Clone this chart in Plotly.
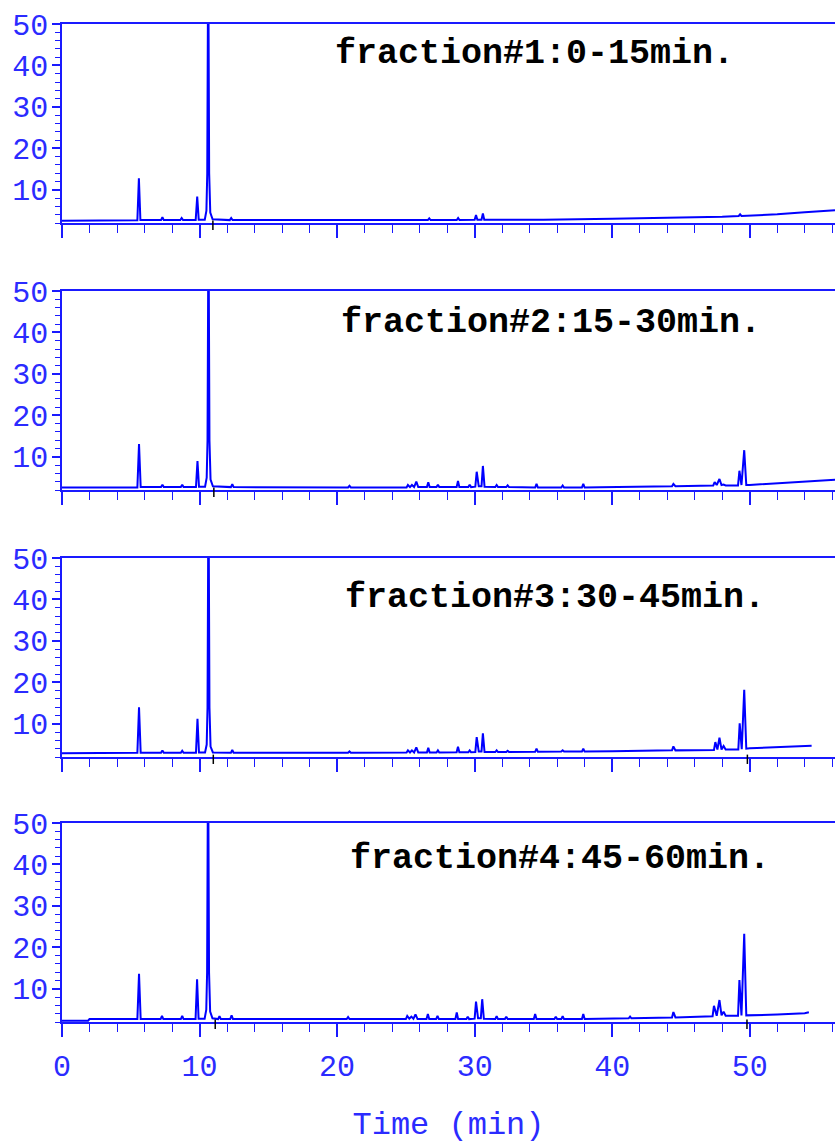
import plotly.graph_objects as go

# ---------------- data ----------------
x_range = [0, 56.2]
y_range = [2, 50]
x_ticks = [0, 10, 20, 30, 40, 50]
y_ticks = [10, 20, 30, 40, 50]
x_title = "Time (min)"
fraction_labels = [
    "fraction#1:0-15min.",
    "fraction#2:15-30min.",
    "fraction#3:30-45min.",
    "fraction#4:45-60min.",
]

# fraction #1
time_f1 = [0.0, 2.0, 5.48,
           5.59, 5.70,
           7.2, 7.3, 7.4,
           8.6, 8.7, 8.8,
           9.72, 9.83, 9.94,
           10.38, 10.50, 10.56, 10.63, 10.70, 10.78, 10.95,
           12.2, 12.3, 12.4,
           20.0, 26.6, 26.7, 26.8,
           28.7, 28.8, 28.9,
           30.0, 30.1, 30.2, 30.5, 30.6, 30.7,
           35.0, 40.0, 45.0, 48.0,
           49.2, 49.3, 49.4,
           52.0, 54.0, 56.2]
sig_f1 = [2.55, 2.65, 2.65,
          12.8, 2.7,
          2.7, 3.4, 2.7,
          2.7, 3.2, 2.7,
          2.7, 8.4, 2.8,
          2.8, 5.0, 14.0, 70.0, 14.0, 4.5, 2.9,
          2.7, 3.2, 2.7,
          2.7, 2.7, 3.1, 2.7,
          2.7, 3.2, 2.7,
          2.8, 3.9, 2.8, 2.8, 4.3, 2.8,
          2.8, 3.0, 3.2, 3.5,
          3.7, 4.1, 3.7,
          4.1, 4.6, 5.1]
events_f1 = [10.97]

# fraction #2
time_f2 = [0.0, 5.48,
           5.6, 5.72,
           7.2, 7.3, 7.4,
           8.64, 8.74, 8.84,
           9.74, 9.85, 9.96,
           10.40, 10.52, 10.58, 10.65, 10.72, 10.80, 10.97,
           12.28, 12.38, 12.48,
           20.8, 20.9, 21.0,
           25.05, 25.15, 25.3, 25.44, 25.6, 25.76, 25.9,
           26.53, 26.63, 26.73,
           27.23, 27.33, 27.43,
           28.69, 28.79, 28.89,
           29.54, 29.64, 29.74,
           30.05, 30.15, 30.3, 30.5, 30.6, 30.72,
           31.5, 31.6, 31.7,
           32.3, 32.4, 32.5,
           34.4, 34.5, 34.6,
           36.3, 36.4, 36.5,
           37.8, 37.9, 38.0,
           39.1, 44.35, 44.45, 44.6,
           47.35, 47.45, 47.6, 47.8, 47.95, 48.1, 48.25,
           49.15, 49.25, 49.4, 49.6, 49.75,
           50.0, 52.0, 54.0, 56.2]
sig_f2 = [2.6, 2.6,
          13.1, 2.7,
          2.7, 3.3, 2.7,
          2.7, 3.3, 2.7,
          2.7, 9.0, 2.8,
          2.8, 5.0, 14.0, 70.0, 14.0, 4.5, 2.9,
          2.7, 3.4, 2.7,
          2.6, 3.0, 2.6,
          2.6, 3.2, 2.7, 3.2, 2.7, 4.0, 2.7,
          2.7, 3.85, 2.7,
          2.7, 3.3, 2.7,
          2.7, 4.2, 2.7,
          2.7, 3.3, 2.7,
          2.8, 6.4, 2.9, 2.9, 7.8, 2.8,
          2.7, 3.2, 2.7,
          2.7, 3.1, 2.7,
          2.6, 3.5, 2.6,
          2.6, 3.1, 2.6,
          2.6, 3.5, 2.6,
          2.65, 2.9, 3.45, 2.9,
          3.1, 3.9, 3.2, 4.65, 3.2, 3.3, 3.1,
          3.1, 6.65, 3.2, 11.6, 3.2,
          3.2, 3.6, 4.0, 4.5]
events_f2 = [11.04]

# fraction #3
time_f3 = [0.0, 5.48,
           5.6, 5.72,
           7.2, 7.3, 7.4,
           8.64, 8.74, 8.84,
           9.74, 9.85, 9.96,
           10.40, 10.52, 10.58, 10.65, 10.72, 10.80, 10.97,
           12.28, 12.38, 12.48,
           20.8, 20.9, 21.0,
           25.05, 25.15, 25.3, 25.44, 25.6, 25.76, 25.9,
           26.53, 26.63, 26.73,
           27.23, 27.33, 27.43,
           28.69, 28.79, 28.89,
           29.54, 29.64, 29.74,
           30.05, 30.15, 30.3, 30.5, 30.6, 30.72,
           31.5, 31.6, 31.7,
           32.3, 32.4, 32.5,
           34.4, 34.5, 34.6,
           36.3, 36.4, 36.5,
           37.8, 37.9, 38.0,
           40.0, 44.35, 44.45, 44.6,
           47.4, 47.5, 47.65, 47.8, 47.95, 48.1, 48.25,
           49.17, 49.27, 49.42, 49.6, 49.75,
           50.0, 52.0, 54.5]
sig_f3 = [2.9, 3.0,
          14.0, 3.0,
          3.0, 3.6, 3.0,
          3.0, 3.5, 3.0,
          3.0, 11.2, 3.1,
          3.1, 5.0, 14.0, 70.0, 14.0, 4.5, 3.1,
          3.0, 3.7, 3.0,
          3.05, 3.35, 3.05,
          3.1, 3.6, 3.1, 3.6, 3.1, 4.3, 3.1,
          3.1, 4.2, 3.1,
          3.1, 3.6, 3.1,
          3.15, 4.5, 3.15,
          3.15, 3.6, 3.15,
          3.2, 6.8, 3.3, 3.3, 7.7, 3.2,
          3.2, 3.6, 3.2,
          3.2, 3.5, 3.2,
          3.25, 4.0, 3.25,
          3.3, 3.6, 3.3,
          3.3, 4.0, 3.3,
          3.4, 3.6, 4.55, 3.6,
          3.7, 5.6, 3.8, 6.65, 3.8, 4.65, 3.8,
          3.8, 10.1, 3.9, 18.2, 4.0,
          4.1, 4.4, 4.7]
events_f3 = [11.0, 49.83]

# fraction #4
time_f4 = [0.0, 1.9, 2.0, 5.48,
           5.6, 5.72,
           7.17, 7.27, 7.37,
           8.64, 8.74, 8.84,
           9.71, 9.82, 9.93,
           10.37, 10.49, 10.55, 10.62, 10.69, 10.77, 10.94,
           11.35, 11.45, 11.55,
           12.23, 12.33, 12.43,
           20.7, 20.8, 20.9,
           25.0, 25.1, 25.25, 25.4, 25.55, 25.7, 25.85,
           26.5, 26.6, 26.7,
           27.2, 27.3, 27.4,
           28.6, 28.7, 28.8,
           29.4, 29.5, 29.6,
           30.0, 30.1, 30.25, 30.45, 30.55, 30.67,
           31.5, 31.6, 31.7,
           32.2, 32.3, 32.4,
           34.3, 34.4, 34.5,
           35.8, 35.9, 36.0, 36.3, 36.4, 36.5,
           37.8, 37.9, 38.0,
           41.2, 41.3, 41.4,
           44.35, 44.45, 44.6,
           47.3, 47.4, 47.6, 47.8, 47.95, 48.1, 48.25,
           49.15, 49.25, 49.4, 49.6, 49.75,
           52.0, 54.0, 54.3]
sig_f4 = [2.3, 2.3, 2.7, 2.7,
          13.6, 2.7,
          2.7, 3.45, 2.7,
          2.7, 3.45, 2.7,
          2.7, 12.3, 2.8,
          2.8, 5.0, 14.0, 70.0, 14.0, 4.5, 2.9,
          2.7, 3.4, 2.7,
          2.7, 3.6, 2.7,
          2.7, 3.2, 2.7,
          2.7, 3.45, 2.8, 3.3, 2.8, 3.85, 2.7,
          2.7, 3.9, 2.7,
          2.7, 3.45, 2.7,
          2.7, 4.3, 2.7,
          2.7, 3.3, 2.7,
          2.8, 6.9, 2.9, 2.9, 7.5, 2.8,
          2.7, 3.4, 2.7,
          2.7, 3.3, 2.7,
          2.7, 3.9, 2.7,
          2.7, 3.3, 2.7, 2.7, 3.4, 2.7,
          2.7, 3.9, 2.7,
          2.9, 3.3, 2.9,
          3.1, 4.4, 3.1,
          3.4, 5.9, 3.5, 7.3, 3.6, 4.5, 3.5,
          3.5, 12.1, 3.6, 23.3, 3.6,
          3.8, 4.1, 4.35]
events_f4 = [11.14, 49.8]

# ---------------- styling / layout ----------------
LINE_BLUE = "#0000ff"
AXIS_BLUE = "#1a1aff"
TEXT_BLUE = "#2b2bff"
MONO = "Courier New, Liberation Mono, DejaVu Sans Mono, monospace"

W, H = 835, 1144
panel_px = [(24, 223), (291, 490), (558, 757), (823, 1022)]  # (top, bottom) in pixels
label_px = [(534, 54), (551, 323), (555, 598), (560, 859)]

series = [(time_f1, sig_f1, events_f1), (time_f2, sig_f2, events_f2),
          (time_f3, sig_f3, events_f3), (time_f4, sig_f4, events_f4)]

fig = go.Figure()
layout = dict(
    width=W, height=H,
    margin=dict(l=62, r=0, t=0, b=0, autoexpand=False),
    paper_bgcolor="white", plot_bgcolor="white",
    showlegend=False,
    annotations=[], shapes=[],
)

for i, (t, s, ev) in enumerate(series):
    xid = "x" if i == 0 else f"x{i+1}"
    yid = "y" if i == 0 else f"y{i+1}"
    fig.add_trace(go.Scatter(x=t, y=s, mode="lines",
                             line=dict(color=LINE_BLUE, width=2),
                             xaxis=xid, yaxis=yid, hoverinfo="skip"))
    # black event marks below the baseline
    for e in ev:
        layout["shapes"].append(dict(
            type="line", xref=xid, yref=yid + " domain",
            x0=e, x1=e, y0=-0.035, y1=0.012,
            line=dict(color="black", width=1.5), layer="above"))
    top, bot = panel_px[i]
    dom = [1 - bot / H, 1 - top / H]
    last = (i == 3)
    xa = dict(domain=[0, 1], range=x_range, anchor=yid, automargin=False,
              showline=True, linecolor=AXIS_BLUE, linewidth=1.5, mirror=True,
              ticks="outside", ticklen=13, tickwidth=1.5, tickcolor=AXIS_BLUE,
              tickvals=x_ticks,
              minor=dict(dtick=2, tick0=0, ticks="outside", ticklen=8,
                         tickwidth=1.2, tickcolor=AXIS_BLUE, showgrid=False),
              showgrid=False, zeroline=False, showticklabels=last,
              tickfont=dict(family=MONO, size=30, color=TEXT_BLUE),
              ticklabelstandoff=3, fixedrange=True)
    if last:
        xa["title"] = dict(text=x_title, font=dict(family=MONO, size=32, color=TEXT_BLUE),
                           standoff=33)
    ya = dict(domain=dom, range=y_range, anchor=xid, automargin=False,
              showline=True, linecolor=AXIS_BLUE, linewidth=1.5, mirror=False,
              ticks="outside", ticklen=8, tickwidth=1.5, tickcolor=AXIS_BLUE,
              tickvals=y_ticks,
              minor=dict(dtick=2, tick0=0, ticks="outside", ticklen=5,
                         tickwidth=1.2, tickcolor=AXIS_BLUE, showgrid=False),
              showgrid=False, zeroline=False,
              tickfont=dict(family=MONO, size=30, color=TEXT_BLUE),
              ticklabelstandoff=-2, fixedrange=True)
    layout["xaxis" if i == 0 else f"xaxis{i+1}"] = xa
    layout["yaxis" if i == 0 else f"yaxis{i+1}"] = ya
    lx, ly = label_px[i]
    layout["annotations"].append(dict(
        text="<b>" + fraction_labels[i] + "</b>", xref="paper", yref="paper",
        x=(lx - 62) / (W - 62), y=1 - ly / H, xanchor="center", yanchor="middle",
        showarrow=False, font=dict(family=MONO, size=35, color="black")))

fig.update_layout(**layout)
fig.write_html("out.html", config={"displayModeBar": False},
               post_script="document.body.style.margin='0px';")
